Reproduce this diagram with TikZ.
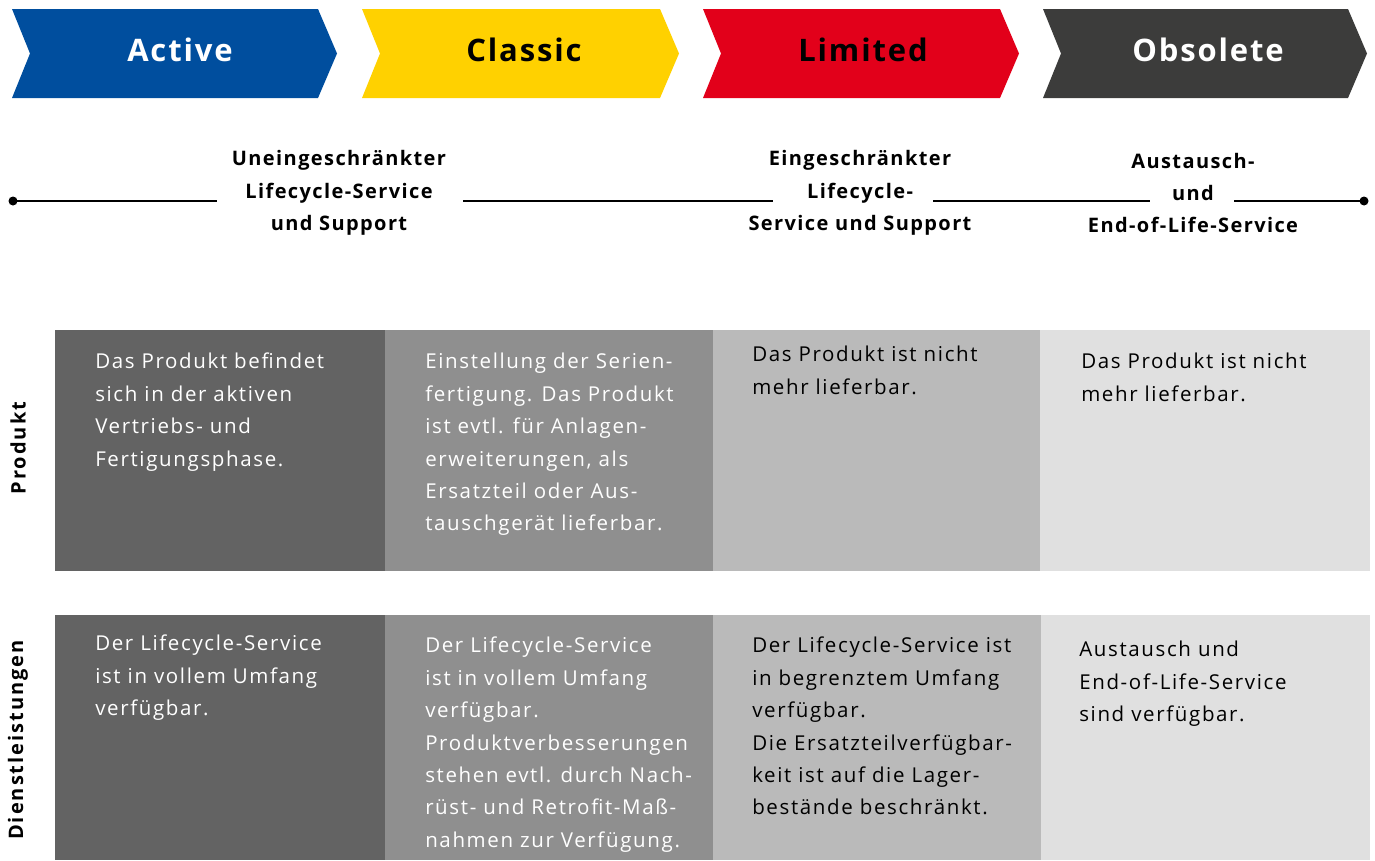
\documentclass[tikz,border=0pt]{standalone}
\usepackage{fontspec}
\setmainfont{Open Sans}
\usepackage{tikz}
\usetikzlibrary{positioning,calc}

\definecolor{activeblue}{HTML}{004E9E}
\definecolor{classicyellow}{HTML}{FFD100}
\definecolor{limitedred}{HTML}{E2001A}
\definecolor{obsoletegray}{HTML}{3C3C3B}
\definecolor{cellA}{HTML}{636363}
\definecolor{cellB}{HTML}{8F8F8F}
\definecolor{cellC}{HTML}{BABABA}
\definecolor{cellD}{HTML}{E0E0E0}

\begin{document}
\begin{tikzpicture}[
  x=1pt, y=-1pt, line width=2.5pt,
  phase/.style={font=\fontsize{31}{34}\selectfont\bfseries\addfontfeature{LetterSpace=6}, inner sep=0pt},
  stage/.style={font=\fontsize{20}{32.4}\selectfont\bfseries\addfontfeature{LetterSpace=7},
    align=center, inner sep=0pt},
  body/.style={anchor=north west, inner sep=0pt, align=left,
    font=\fontsize{20.5}{32.4}\selectfont\addfontfeature{LetterSpace=8}},
  rowlabel/.style={rotate=90, inner sep=0pt,
    font=\fontsize{20}{24}\selectfont\bfseries\addfontfeature{LetterSpace=10}},
  dot/.style={circle, fill, inner sep=0pt, minimum size=9pt},
]
\useasboundingbox (0,0) rectangle (1375,860);

% phase chevrons
\fill[activeblue] (12,9) -- ++(306,0) -- ++(19,44.5) -- ++(-19,44.5) -- ++(-306,0) -- ++(18,-44.5) -- cycle;
\fill[classicyellow] (362,9) -- ++(298,0) -- ++(19,44.5) -- ++(-19,44.5) -- ++(-298,0) -- ++(18,-44.5) -- cycle;
\fill[limitedred] (703,9) -- ++(297,0) -- ++(19,44.5) -- ++(-19,44.5) -- ++(-297,0) -- ++(18,-44.5) -- cycle;
\fill[obsoletegray] (1043,9) -- ++(305,0) -- ++(19,44.5) -- ++(-19,44.5) -- ++(-305,0) -- ++(18,-44.5) -- cycle;
\node[phase, text=white] (active) at (180,50) {Active};
\node[phase, text=black] (classic) at (524,50) {Classic};
\node[phase, text=black] (limited) at (863,50) {Limited};
\node[phase, text=white] (obsolete) at (1208,50) {Obsolete};

% service timeline
\node[dot] (tlstart) at (13,201) {};
\node[dot] (tlend) at (1364,201) {};
\node[stage] (fullsvc) at (339,193) {Uneingeschränkter\\Lifecycle-Service\\und Support};
\node[stage] (limsvc) at (860,193) {Eingeschränkter\\Lifecycle-\\Service und Support};
\node[stage] (eolsvc) at (1193,193) {Austausch-\\und\\End-of-Life-Service};
\coordinate (gap1l) at (217,201);
\coordinate (gap1r) at (463,201);
\coordinate (gap2l) at (773,201);
\coordinate (gap2r) at (933,201);
\coordinate (gap3l) at (1150,201);
\coordinate (gap3r) at (1234,201);
\draw (tlstart.center) -- (gap1l);
\draw (gap1r) -- (gap2l);
\draw (gap2r) -- (gap3l);
\draw (gap3r) -- (tlend.center);

% table cells
\fill[cellA] (55,330) rectangle (385,571);
\fill[cellB] (385,330) rectangle (713,571);
\fill[cellC] (713,330) rectangle (1040,571);
\fill[cellD] (1040,330) rectangle (1370,571);
\fill[cellA] (55,615) rectangle (385,860);
\fill[cellB] (385,615) rectangle (713,860);
\fill[cellC] (713,615) rectangle (1041,860);
\fill[cellD] (1041,615) rectangle (1370,860);

\node[rowlabel] (produkt) at (18,448) {Produkt};
\node[rowlabel] (dienst) at (18,740) {Dienstleistungen};

% Produkt row
\node[body, text=white] (pactive) at (94,352) {Das Produkt befindet\\sich in der aktiven\\Vertriebs- und\\Fertigungsphase.};
\node[body, text=white] (pclassic) at (424,352) {Einstellung der Serien-\\fertigung. Das Produkt\\ist evtl. für Anlagen-\\erweiterungen, als\\Ersatzteil oder Aus-\\tauschgerät lieferbar.};
\node[body] (plimited) at (751,345) {Das Produkt ist nicht\\mehr lieferbar.};
\node[body] (pobsolete) at (1080,352) {Das Produkt ist nicht\\mehr lieferbar.};

% Dienstleistungen row
\node[body, text=white] (dactive) at (94,634) {Der Lifecycle-Service\\ist in vollem Umfang\\verfügbar.};
\node[body, text=white] (dclassic) at (424,636) {Der Lifecycle-Service\\ist in vollem Umfang\\verfügbar.\\Produktverbesserungen\\stehen evtl. durch Nach-\\rüst- und Retrofit-Maß-\\nahmen zur Verfügung.};
\node[body] (dlimited) at (751,636) {Der Lifecycle-Service ist\\in begrenztem Umfang\\verfügbar.\\Die Ersatzteilverfügbar-\\keit ist auf die Lager-\\bestände beschränkt.};
\node[body] (dobsolete) at (1078,640) {Austausch und\\End-of-Life-Service\\sind verfügbar.};
\end{tikzpicture}
\end{document}
